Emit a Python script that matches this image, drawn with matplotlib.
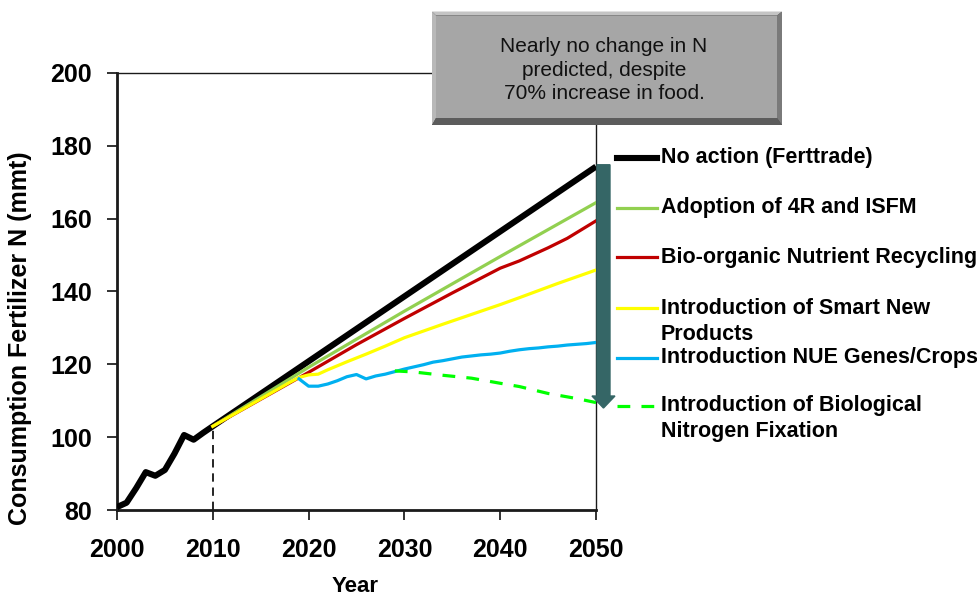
import matplotlib
matplotlib.use("Agg")
import matplotlib.pyplot as plt
from matplotlib.patches import Polygon, FancyArrow
from matplotlib.lines import Line2D

plt.rcParams["font.family"] = ["Liberation Sans", "DejaVu Sans"]

# historical consumption, 2000-2010
hist_years = [2000, 2001, 2002, 2003, 2004, 2005, 2006, 2007, 2008, 2009, 2010]
hist_vals = [80.8, 82.0, 86.0, 90.4, 89.4, 91.0, 95.5, 100.6, 99.3, 101.2, 103.0]

# scenario projections to 2050
noaction_years = [2010, 2050]
noaction_vals = [103.0, 174.3]

adopt_years = [2010, 2020, 2030, 2040, 2050]
adopt_vals = [103.0, 119.2, 134.6, 149.6, 164.4]

bio_years = [2010, 2015, 2020, 2025, 2030, 2035, 2040, 2042, 2045, 2047, 2050]
bio_vals = [103.0, 110.4, 117.8, 125.4, 132.6, 139.6, 146.4, 148.4, 152.0, 154.6, 159.4]

smart_years = [2010, 2012, 2014, 2016, 2018, 2019, 2020, 2021, 2022, 2024, 2026,
               2028, 2030, 2034, 2038, 2040, 2042, 2046, 2050]
smart_vals = [103.0, 106.0, 109.0, 112.0, 115.0, 116.4, 117.1, 117.3, 118.5, 120.7, 122.8,
              125.0, 127.3, 131.0, 134.6, 136.4, 138.3, 142.2, 145.9]

nue_years = [2019, 2020, 2021, 2022, 2023, 2024, 2025, 2026, 2027, 2028, 2029, 2030,
             2031, 2032, 2033, 2034, 2035, 2036, 2037, 2038, 2039, 2040, 2041, 2042,
             2043, 2044, 2045, 2046, 2047, 2048, 2049, 2050]
nue_vals = [116.0, 114.0, 114.0, 114.6, 115.5, 116.6, 117.2, 116.0, 116.8, 117.3, 118.0, 118.7,
            119.3, 119.9, 120.6, 121.0, 121.5, 122.0, 122.3, 122.6, 122.8, 123.1, 123.6, 124.0,
            124.3, 124.5, 124.8, 125.0, 125.3, 125.5, 125.7, 126.0]

bnf_years = [2029, 2031, 2034, 2037, 2040, 2042, 2045, 2048, 2050]
bnf_vals = [118.2, 117.9, 117.0, 116.2, 114.8, 113.9, 112.0, 110.6, 109.5]

x_ticks = [2000, 2010, 2020, 2030, 2040, 2050]
y_ticks = [80, 100, 120, 140, 160, 180, 200]

labels = ["No action (Ferttrade)",
          "Adoption of 4R and ISFM",
          "Bio-organic Nutrient Recycling",
          "Introduction of Smart New\nProducts",
          "Introduction NUE Genes/Crops",
          "Introduction of Biological\nNitrogen Fixation"]
colors = ["black", "#92D050", "#C00000", "#FFFF00", "#00B0F0", "#00FF00"]

note = "Nearly no change in N\npredicted, despite\n70% increase in food."

W, H = 977, 600
fig = plt.figure(figsize=(W / 100, H / 100), dpi=100)
ax = fig.add_axes([117 / W, 1 - 510 / H, (596 - 117) / W, (510 - 73) / H])


def fx(x):
    return x / W


def fy(y):
    return 1 - y / H


lw_thin = 2.3
ax.plot(hist_years + noaction_years[1:], hist_vals + noaction_vals[1:],
        color=colors[0], lw=4.4, solid_capstyle="butt", zorder=3)
ax.plot(adopt_years, adopt_vals, color=colors[1], lw=lw_thin, zorder=4)
ax.plot(bio_years, bio_vals, color=colors[2], lw=lw_thin, zorder=4)
ax.plot(smart_years, smart_vals, color=colors[3], lw=lw_thin, zorder=5)
ax.plot(nue_years, nue_vals, color=colors[4], lw=lw_thin, zorder=5)
ax.plot(bnf_years, bnf_vals, color=colors[5], lw=lw_thin, dashes=(4, 3.5), zorder=6)

# marker for the start of projections
ax.plot([2010, 2010], [80, hist_vals[-1]], color="black", lw=1.2, dashes=(5, 3.5),
        zorder=2, clip_on=False)

ax.set_xlim(2000, 2050)
ax.set_ylim(80, 200)
ax.set_xticks(x_ticks)
ax.set_yticks(y_ticks)
ax.tick_params(direction="out", length=7, width=1.3, color="#222222")
ax.tick_params(axis="x", pad=13)
ax.tick_params(axis="y", pad=11)
for t in ax.get_xticklabels() + ax.get_yticklabels():
    t.set_fontsize(18)
    t.set_fontweight("bold")

for side in ["left", "bottom"]:
    ax.spines[side].set_linewidth(2.0)
    ax.spines[side].set_color("#1a1a1a")
for side in ["top", "right"]:
    ax.spines[side].set_linewidth(1.0)
    ax.spines[side].set_color("#1a1a1a")

ax.set_ylabel("Consumption Fertilizer N (mmt)", fontsize=18, fontweight="bold")
ax.yaxis.set_label_coords(-0.177, 0.394)
ax.set_xlabel("Year", fontsize=16, fontweight="bold")
ax.xaxis.set_label_coords(0.497, -0.15)

# big downward arrow from no-action to BNF scenario
arrow = FancyArrow(2050.78, 174.8, 0, 108.0 - 174.8, width=1.36, head_width=2.4,
                   head_length=3.3, length_includes_head=True,
                   color="#356666", clip_on=False, zorder=7)
ax.add_patch(arrow)

# bevelled note box
x0, x1, y0, y1 = 432, 782, 11.5, 125
bt, bl, br, bb = 4, 4, 5, 7
box_parts = [
    ([(x0, y0), (x1, y0), (x1, y1), (x0, y1)], "#4a4a4a"),
    ([(x0, y0), (x1, y0), (x1 - br, y0 + bt), (x0 + bl, y0 + bt)], "#c4c4c4"),
    ([(x0, y0), (x0 + bl, y0 + bt), (x0 + bl, y1 - bb), (x0, y1)], "#b8b8b8"),
    ([(x1, y0), (x1, y1), (x1 - br, y1 - bb), (x1 - br, y0 + bt)], "#7a7a7a"),
    ([(x0, y1), (x1, y1), (x1 - br, y1 - bb), (x0 + bl, y1 - bb)], "#5c5c5c"),
    ([(x0 + bl, y0 + bt), (x1 - br, y0 + bt), (x1 - br, y1 - bb), (x0 + bl, y1 - bb)], "#a6a6a6"),
]
for pts, c in box_parts:
    fig.patches.append(Polygon([(fx(px), fy(py)) for px, py in pts], closed=True,
                               facecolor=c, edgecolor="none",
                               transform=fig.transFigure, zorder=5))
fig.text(fx(604), fy(70), note, ha="center", va="center", fontsize=15,
         linespacing=1.27, color="#111111", zorder=6)

# legend drawn beside the plot
entry_y = [158, 208, 257, 308, 358, 406]
for lab, c, yy, k in zip(labels, colors, entry_y, range(6)):
    if k == 5:
        ln = Line2D([fx(617), fx(657)], [fy(yy), fy(yy)], color=c, lw=lw_thin,
                    dashes=(4, 3.5), transform=fig.transFigure)
    else:
        ln = Line2D([fx(617), fx(657)], [fy(yy), fy(yy)], color=c,
                    lw=4.4 if k == 0 else lw_thin, transform=fig.transFigure)
    fig.lines.append(ln)
    for j, part in enumerate(lab.split("\n")):
        fig.text(fx(661), fy(yy + 26 * j), part, ha="left", va="center",
                 fontsize=15.5, fontweight="bold")

fig.savefig("out.png", dpi=100)
